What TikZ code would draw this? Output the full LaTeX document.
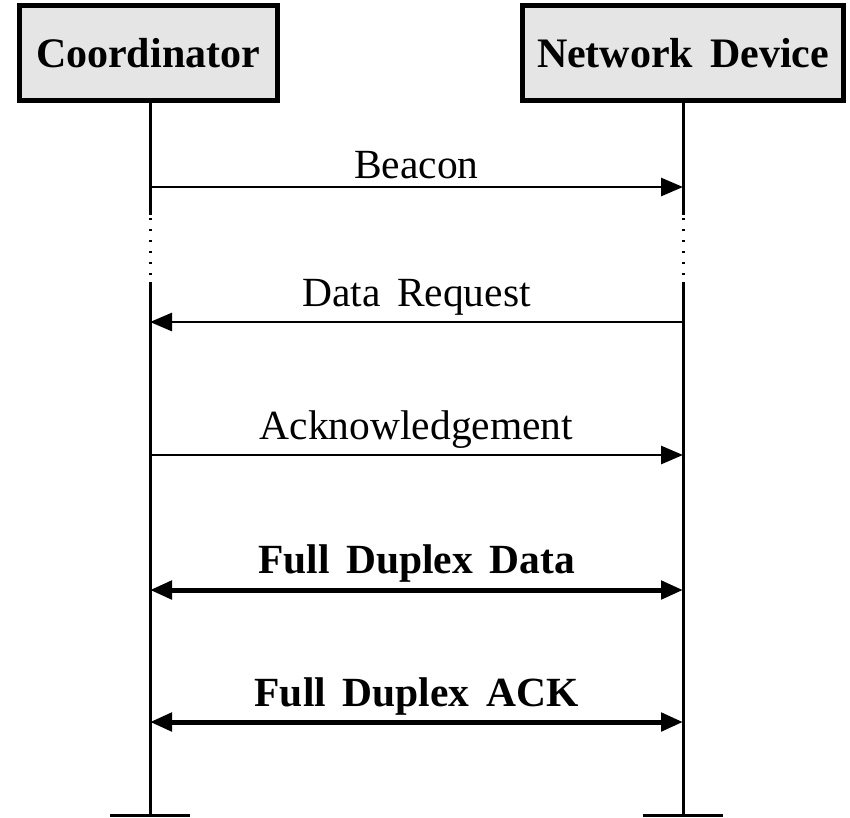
\documentclass[tikz,border=0pt]{standalone}
\usepackage{fontspec}
\setmainfont[WordSpace=1.6]{Liberation Serif}
\usetikzlibrary{arrows.meta}
\begin{document}
\begin{tikzpicture}[x=1pt,y=-1pt,
  actor/.style={draw=black,line width=5pt,fill=black!10,minimum height=95pt,inner sep=0pt,
    font=\fontsize{42}{50}\selectfont\bfseries},
  life/.style={line width=3pt},
  lifedot/.style={line width=3pt,dash pattern=on 2pt off 9pt},
  msg/.style={line width=2.8pt,-{Triangle[length=22pt,width=18pt]}},
  dmsg/.style={line width=5pt,{Triangle[length=22pt,width=18pt]}-{Triangle[length=22pt,width=18pt]}},
  lbl/.style={font=\fontsize{41.5}{48}\selectfont,inner sep=0pt},
  blbl/.style={font=\fontsize{41.5}{48}\selectfont\bfseries,inner sep=0pt}]
\useasboundingbox (0,0) rectangle (850,817);
\node[actor,minimum width=258pt] (coord) at (148,53) {Coordinator};
\node[actor,minimum width=321pt] (dev) at (683,53) {Network Device};
% lifeline coordinates
\coordinate (c1) at (150,215); \coordinate (c2) at (150,282); \coordinate (cb) at (150,815);
\coordinate (d1) at (683,215); \coordinate (d2) at (683,282); \coordinate (db) at (683,815);
\coordinate (cl) at (110,815); \coordinate (cr) at (190,815);
\coordinate (dl) at (643,815); \coordinate (dr) at (723,815);
\draw[life] (coord.south -| c1) -- (c1);
\draw[lifedot] ([yshift=8pt]c1) -- ([yshift=-6pt]c2);
\draw[life] (c2) -- (cb);
\draw[life] (dev.south -| d1) -- (d1);
\draw[lifedot] ([yshift=8pt]d1) -- ([yshift=-6pt]d2);
\draw[life] (d2) -- (db);
\draw[life] (cl) -- (cr);
\draw[life] (dl) -- (dr);
% messages
\coordinate (m1c) at (150,187); \coordinate (m1d) at (683,187);
\coordinate (m2c) at (150,322); \coordinate (m2d) at (683,322);
\coordinate (m3c) at (150,455); \coordinate (m3d) at (683,455);
\coordinate (m4c) at (150,590); \coordinate (m4d) at (683,590);
\coordinate (m5c) at (150,722); \coordinate (m5d) at (683,722);
\draw[msg] (m1c) -- node[lbl,above=7pt] (l1) {Beacon} (m1d);
\draw[msg] (m2d) -- node[lbl,above=5pt] (l2) {Data Request} (m2c);
\draw[msg] (m3c) -- node[lbl,above=5pt] (l3) {Acknowledgement} (m3d);
\draw[dmsg] (m4c) -- node[blbl,above=5pt] (l4) {Full Duplex Data} (m4d);
\draw[dmsg] (m5c) -- node[blbl,above=4pt] (l5) {Full Duplex ACK} (m5d);
\end{tikzpicture}
\end{document}
